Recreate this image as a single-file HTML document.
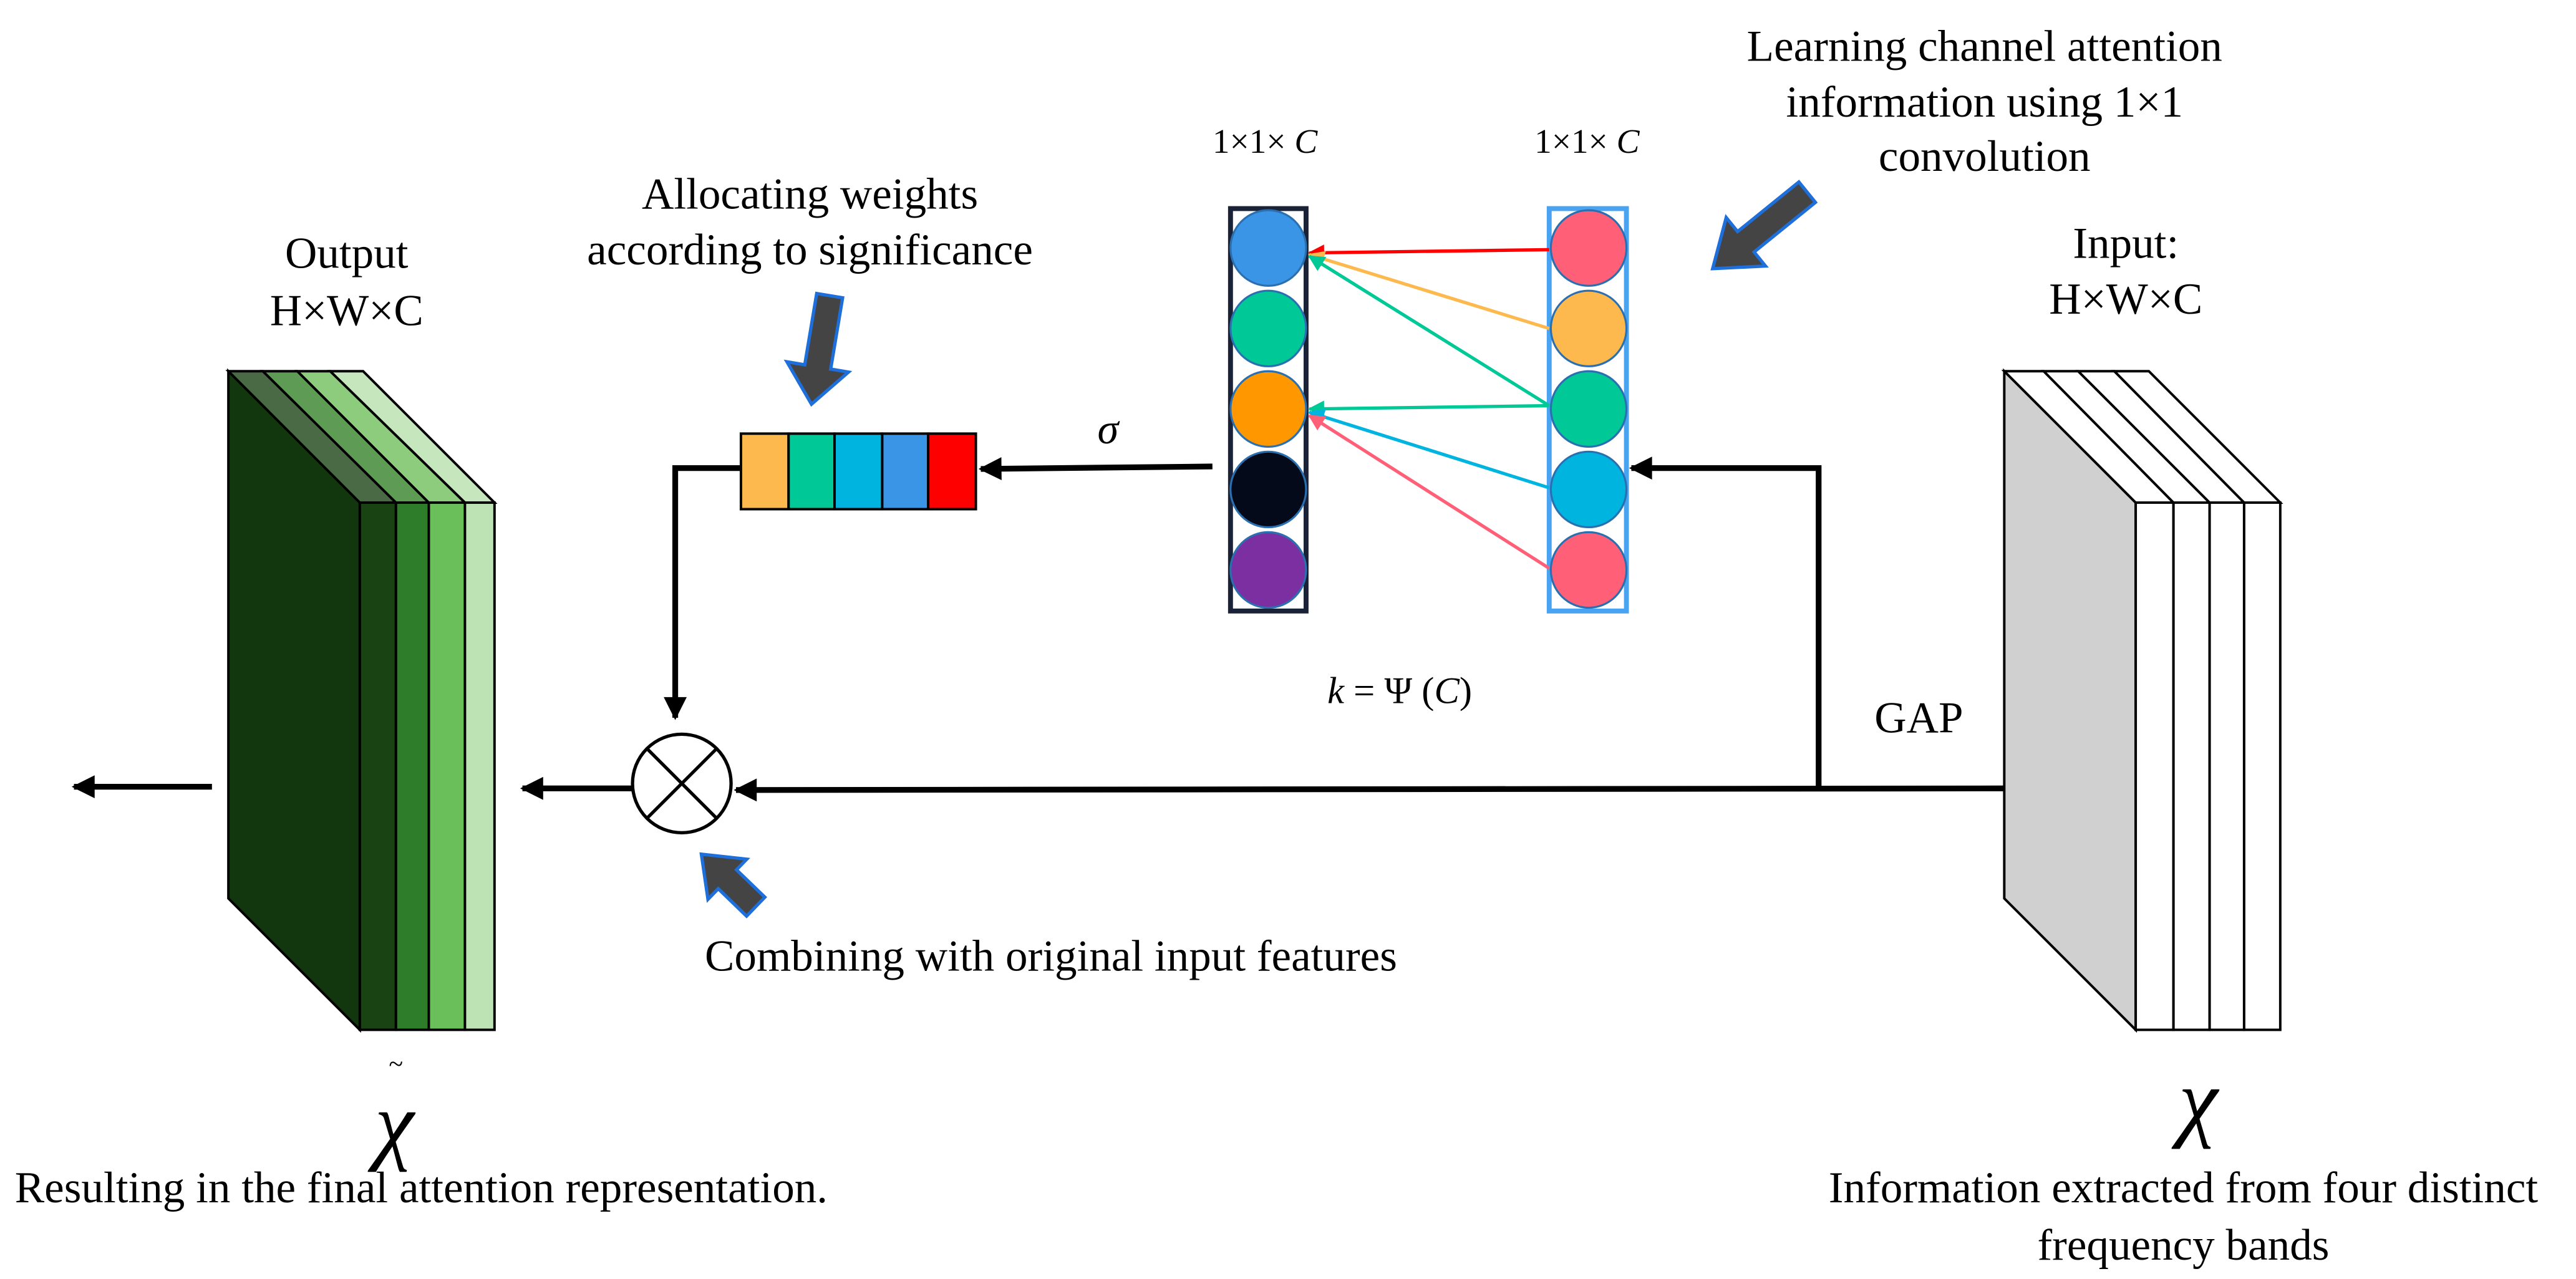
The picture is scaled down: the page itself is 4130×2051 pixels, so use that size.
<!DOCTYPE html>
<html><head><meta charset="utf-8"><style>
html,body{margin:0;padding:0;background:#fff}
svg{display:block}
svg text, svg tspan{font-family:"Liberation Serif","Times New Roman",serif !important;fill:#000}
</style></head><body>
<svg width="4130" height="2051" viewBox="0 0 1568 778.7" xmlns="http://www.w3.org/2000/svg" font-family="Liberation Serif, serif">
<defs>
<marker id="ahb" viewBox="0 0 10 10" markerWidth="16" markerHeight="14" refX="9" refY="5" orient="auto" markerUnits="userSpaceOnUse"><path d="M0,0 L10,5 L0,10 Z" fill="#000"/></marker>
<marker id="mr" viewBox="0 0 10 10" markerWidth="12" markerHeight="10" refX="9" refY="5" orient="auto" markerUnits="userSpaceOnUse"><path d="M0,0 L10,5 L0,10 Z" fill="#ff0000"/></marker>
<marker id="mg" viewBox="0 0 10 10" markerWidth="12" markerHeight="10" refX="9" refY="5" orient="auto" markerUnits="userSpaceOnUse"><path d="M0,0 L10,5 L0,10 Z" fill="#00c896"/></marker>
<marker id="mo" viewBox="0 0 10 10" markerWidth="12" markerHeight="10" refX="9" refY="5" orient="auto" markerUnits="userSpaceOnUse"><path d="M0,0 L10,5 L0,10 Z" fill="#fdb94e"/></marker>
<marker id="mb" viewBox="0 0 10 10" markerWidth="12" markerHeight="10" refX="9" refY="5" orient="auto" markerUnits="userSpaceOnUse"><path d="M0,0 L10,5 L0,10 Z" fill="#00b4e0"/></marker>
<marker id="mp" viewBox="0 0 10 10" markerWidth="12" markerHeight="10" refX="9" refY="5" orient="auto" markerUnits="userSpaceOnUse"><path d="M0,0 L10,5 L0,10 Z" fill="#ff6078"/></marker>
</defs>

<!-- Output block -->
<g stroke="#000" stroke-width="1.5">
<polygon points="139,226 219,306 219,627 139,547" fill="#12360d"/>
<polygon points="139,226 160,226 241,306 219,306" fill="#4a6a45"/>
<polygon points="160,226 181,226 261,306 241,306" fill="#5e9c55"/>
<polygon points="181,226 201,226 283,306 261,306" fill="#8ccc7c"/>
<polygon points="201,226 221,226 301,306 283,306" fill="#c6e6bd"/>
<rect x="219" y="306" width="22" height="321" fill="#1a4314"/>
<rect x="241" y="306" width="20" height="321" fill="#2e7d2a"/>
<rect x="261" y="306" width="22" height="321" fill="#6bbf5b"/>
<rect x="283" y="306" width="18" height="321" fill="#bde3b4"/>
</g>
<text x="211" y="163" font-size="27" text-anchor="middle">Output</text>
<text x="211" y="198" font-size="27" text-anchor="middle">H×W×C</text>

<!-- Input block -->
<g stroke="#000" stroke-width="1.5">
<polygon points="1220,226 1300,306 1300,627 1220,547" fill="#d0d0d0"/>
<polygon points="1220,226 1244,226 1323,306 1300,306" fill="#fff"/>
<polygon points="1244,226 1265,226 1345,306 1323,306" fill="#fff"/>
<polygon points="1265,226 1287,226 1366,306 1345,306" fill="#fff"/>
<polygon points="1287,226 1308,226 1388,306 1366,306" fill="#fff"/>
<rect x="1300" y="306" width="23" height="321" fill="#fff"/>
<rect x="1323" y="306" width="22" height="321" fill="#fff"/>
<rect x="1345" y="306" width="21" height="321" fill="#fff"/>
<rect x="1366" y="306" width="22" height="321" fill="#fff"/>
</g>
<text x="1294" y="157" font-size="27" text-anchor="middle">Input:</text>
<text x="1294" y="191" font-size="27" text-anchor="middle">H×W×C</text>

<!-- weight bar -->
<g stroke="#000" stroke-width="1.5">
<rect x="451" y="264" width="29" height="46" fill="#fdb94e"/>
<rect x="480" y="264" width="28" height="46" fill="#00c896"/>
<rect x="508" y="264" width="29" height="46" fill="#00b4e0"/>
<rect x="537" y="264" width="28" height="46" fill="#3a95e6"/>
<rect x="565" y="264" width="29" height="46" fill="#ff0000"/>
</g>

<!-- connectors -->
<g stroke="#000" stroke-width="3.5" fill="none">
<line x1="738" y1="284" x2="597" y2="285.5" marker-end="url(#ahb)"/>
<polyline points="451,285 411,285 411,437" marker-end="url(#ahb)"/>
<line x1="1220" y1="480" x2="448" y2="481" marker-end="url(#ahb)"/>
<polyline points="1107,480 1107,285 993,285" marker-end="url(#ahb)"/>
<line x1="385" y1="480" x2="318" y2="480" marker-end="url(#ahb)"/>
<line x1="129" y1="479" x2="45" y2="479" marker-end="url(#ahb)"/>
</g>
<text x="668" y="270" font-size="26" font-style="italic">σ</text>

<!-- multiply -->
<circle cx="415" cy="477" r="30" fill="#fff" stroke="#000" stroke-width="2"/>
<line x1="394" y1="456" x2="436" y2="498" stroke="#000" stroke-width="2"/>
<line x1="436" y1="456" x2="394" y2="498" stroke="#000" stroke-width="2"/>

<!-- left column -->
<rect x="749" y="127" width="46" height="245" fill="#fff" stroke="#1a2238" stroke-width="3"/>
<g stroke="#2a6fb0" stroke-width="1.2">
<circle cx="772" cy="151" r="23" fill="#3a95e6"/>
<circle cx="772" cy="200" r="23" fill="#00c896"/>
<circle cx="772" cy="249" r="23" fill="#ff9800"/>
<circle cx="772" cy="298" r="23" fill="#050a1a"/>
<circle cx="772" cy="347" r="23" fill="#7b2fa0"/>
</g>
<!-- right column -->
<rect x="943" y="127" width="47" height="245" fill="#fff" stroke="#4aa3f0" stroke-width="3"/>
<g stroke="#2a6fb0" stroke-width="1.2">
<circle cx="967" cy="151" r="23" fill="#ff6078"/>
<circle cx="967" cy="200" r="23" fill="#fdb94e"/>
<circle cx="967" cy="249" r="23" fill="#00c896"/>
<circle cx="967" cy="298" r="23" fill="#00b4e0"/>
<circle cx="967" cy="347" r="23" fill="#ff6078"/>
</g>
<g stroke-width="2" fill="none">
<line x1="943" y1="152" x2="797" y2="154" stroke="#ff0000" marker-end="url(#mr)"/>
<line x1="943" y1="200" x2="797" y2="155" stroke="#fdb94e" marker-end="url(#mo)"/>
<line x1="943" y1="247" x2="797" y2="156" stroke="#00c896" marker-end="url(#mg)"/>
<line x1="943" y1="247" x2="797" y2="249" stroke="#00c896" marker-end="url(#mg)"/>
<line x1="943" y1="297" x2="797" y2="251" stroke="#00b4e0" marker-end="url(#mb)"/>
<line x1="943" y1="346" x2="797" y2="253" stroke="#ff6078" marker-end="url(#mp)"/>
</g>
<text x="770" y="93" font-size="21" text-anchor="middle">1×1× <tspan font-style="italic">C</tspan></text>
<text x="966" y="93" font-size="21" text-anchor="middle">1×1× <tspan font-style="italic">C</tspan></text>
<text x="852" y="428" font-size="23" text-anchor="middle"><tspan font-style="italic">k</tspan> = Ψ (<tspan font-style="italic">C</tspan>)</text>

<!-- fat arrows -->
<g fill="#444" stroke="#1e6fd9" stroke-width="2">
<polygon transform="translate(505,180) rotate(99.5)" points="0,-8 44,-8 44,-19 67,0 44,19 44,8 0,8"/>
<polygon transform="translate(1100,117) rotate(141)" points="0,-8 48,-8 48,-19 74,0 48,19 48,8 0,8"/>
<polygon transform="translate(460,552) rotate(224)" points="0,-8 24,-8 24,-17 46,0 24,17 24,8 0,8"/>
</g>

<text x="493" y="127" font-size="27" text-anchor="middle">Allocating weights</text>
<text x="493" y="161" font-size="27" text-anchor="middle">according to significance</text>
<text x="1208" y="37" font-size="27" text-anchor="middle">Learning channel attention</text>
<text x="1208" y="71" font-size="27" text-anchor="middle">information using 1×1</text>
<text x="1208" y="104" font-size="27" text-anchor="middle">convolution</text>
<text x="1168" y="446" font-size="27" text-anchor="middle">GAP</text>
<text x="429" y="591" font-size="27">Combining with original input features</text>
<text x="1338" y="688" font-size="54" font-style="italic" text-anchor="middle">χ</text>
<text x="1329" y="732" font-size="27" text-anchor="middle">Information extracted from four distinct</text>
<text x="1329" y="767" font-size="27" text-anchor="middle">frequency bands</text>
<text x="241" y="653" font-size="16" text-anchor="middle">~</text>
<text x="240" y="702" font-size="54" font-style="italic" text-anchor="middle">χ</text>
<text x="9" y="732" font-size="27">Resulting in the final attention representation.</text>
</svg>
</body></html>
